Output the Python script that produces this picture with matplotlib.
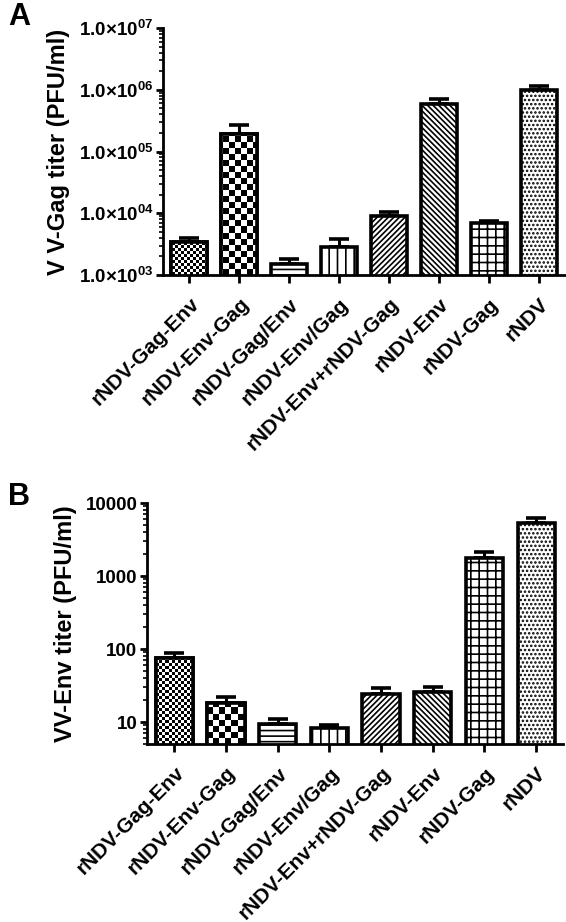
import numpy as np
import matplotlib
matplotlib.use("Agg")
import matplotlib.pyplot as plt
from matplotlib.ticker import LogLocator, FixedLocator, NullFormatter

plt.rcParams['font.family'] = ['Liberation Sans', 'DejaVu Sans']
plt.rcParams['font.weight'] = 'bold'
plt.rcParams['mathtext.fontset'] = 'custom'
plt.rcParams['mathtext.rm'] = 'Liberation Sans:bold'
plt.rcParams['mathtext.it'] = 'Liberation Sans:bold'
plt.rcParams['mathtext.bf'] = 'Liberation Sans:bold'
plt.rcParams['hatch.linewidth'] = 1.2

categories = ["rNDV-Gag-Env", "rNDV-Env-Gag", "rNDV-Gag/Env", "rNDV-Env/Gag",
              "rNDV-Env+rNDV-Gag", "rNDV-Env", "rNDV-Gag", "rNDV"]

gag_titer = [3400, 1.93e5, 1500, 2850, 9000, 5.9e5, 6900, 1.0e6]
gag_err = [600, 0.8e5, 300, 950, 1500, 1.1e5, 600, 1.5e5]

env_titer = [75, 18, 9.4, 8.3, 24, 26, 1780, 5350]
env_err = [13, 4, 1.6, 0.7, 5, 4, 360, 850]

gag_ticks = [1e3, 1e4, 1e5, 1e6, 1e7]
gag_ticklabels = [r'$1.0{\times}10^{03}$', r'$1.0{\times}10^{04}$', r'$1.0{\times}10^{05}$',
                  r'$1.0{\times}10^{06}$', r'$1.0{\times}10^{07}$']
env_ticks = [10, 100, 1000, 10000]
env_ticklabels = ["10", "100", "1000", "10000"]

# fill styles per bar: ('checker', cell_px) or hatch string
fills = [('checker', 3), ('checker', 6), ('hatch', '---'), ('hatch', '||'),
         ('hatch', '//////'), ('hatch', '\\\\\\\\\\\\'), ('hatch', '++'), ('hatch', '....')]

W, H = 566, 922
fig = plt.figure(figsize=(W / 100, H / 100), dpi=100)


def make_panel(rect, values, errs, ylim, ticks, ticklabels, ylabel, letter, letter_xy):
    ax = fig.add_axes(rect)
    x = np.arange(len(values))
    bars = ax.bar(x, values, width=0.72, color='white', edgecolor='black',
                  linewidth=2.6, zorder=2)
    ax.errorbar(x, values, yerr=[np.zeros(len(errs)), errs], fmt='none',
                ecolor='black', elinewidth=2.2, capsize=7, capthick=2.6, zorder=1)
    ax_w = rect[2] * W
    ax_h = rect[3] * H
    for b, (kind, spec) in zip(bars, fills):
        if kind == 'hatch':
            b.set_hatch(spec)
        else:
            rows = int(ax_h / spec)
            cols = int(ax_w / spec)
            arr = np.indices((rows, cols)).sum(0) % 2
            im = ax.imshow(arr, cmap='gray', extent=[0, 1, 0, 1], transform=ax.transAxes,
                           interpolation='nearest', aspect='auto', zorder=2.5)
            im.set_clip_path(b)
            ax.bar(b.get_x() + b.get_width() / 2, b.get_height(), width=b.get_width(),
                   fill=False, edgecolor='black', linewidth=2.6, zorder=3)
    ax.set_yscale('log')
    ax.set_xlim(-0.53, len(values) - 1 + 0.52)
    ax.set_ylim(*ylim)
    ax.set_aspect('auto')
    ax.spines['top'].set_visible(False)
    ax.spines['right'].set_visible(False)
    ax.spines['left'].set_linewidth(2)
    ax.spines['bottom'].set_linewidth(2)
    ax.yaxis.set_major_locator(FixedLocator(ticks))
    ax.set_yticklabels(ticklabels, fontsize=13.5, fontweight='bold')
    ax.yaxis.set_minor_locator(LogLocator(base=10, subs=np.arange(2, 10)))
    ax.yaxis.set_minor_formatter(NullFormatter())
    ax.tick_params(axis='y', which='major', length=5, width=2, pad=2)
    ax.tick_params(axis='y', which='minor', length=3, width=1.2)
    ax.set_xticks(x)
    ax.set_xticklabels(categories, rotation=45, ha='right', va='top',
                       rotation_mode='anchor', fontsize=15, fontweight='bold')
    ax.tick_params(axis='x', length=6, width=2, pad=8)
    ax.set_ylabel(ylabel, fontsize=17, fontweight='bold', labelpad=6)
    fig.text(letter_xy[0], letter_xy[1], letter, fontsize=22, fontweight='bold',
             ha='left', va='top')
    return ax


make_panel([163 / W, (H - 275) / H, 402 / W, 247 / H], gag_titer, gag_err, (1e3, 1e7),
           gag_ticks, gag_ticklabels, "V V-Gag titer (PFU/ml)", "A", (8 / W, 1 - 2 / H))
make_panel([147 / W, (H - 744) / H, 416 / W, 241 / H], env_titer, env_err, (5, 1e4),
           env_ticks, env_ticklabels, "VV-Env titer (PFU/ml)", "B", (8 / W, 1 - 482 / H))

fig.savefig("out.png", dpi=100)
